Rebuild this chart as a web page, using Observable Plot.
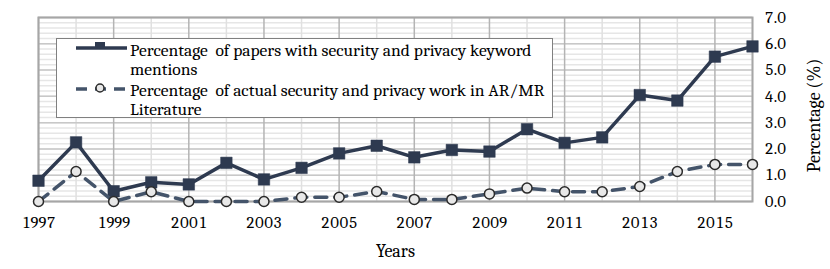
<!DOCTYPE html>
<html><head><meta charset="utf-8">
<script src="https://cdn.jsdelivr.net/npm/d3@7"></script>
<script src="https://cdn.jsdelivr.net/npm/@observablehq/plot@0.6"></script>
<style>
body{margin:0;background:#fff;font-family:Cambria,Caladea,"Liberation Serif",serif;}
#wrap{position:relative;width:830px;height:269px;}
#legend{position:absolute;left:56px;top:38px;width:495px;height:78px;border:1.5px solid #808080;background:#fff;font-size:17.5px;color:#000;line-height:18px;}
#legend svg{position:absolute;left:0;top:0;}
.lt{position:absolute;left:73px;white-space:pre;}
</style></head><body><div id="wrap"></div>
<script>
const years = [1997,1998,1999,2000,2001,2002,2003,2004,2005,2006,2007,2008,2009,2010,2011,2012,2013,2014,2015,2016];
const keywordMentions = [0.79,2.25,0.39,0.73,0.65,1.47,0.84,1.28,1.83,2.12,1.68,1.96,1.90,2.75,2.23,2.44,4.05,3.84,5.51,5.90];
const actualWork = [0.0,1.14,0.0,0.37,0.0,0.0,0.0,0.16,0.16,0.38,0.08,0.08,0.29,0.51,0.37,0.37,0.57,1.14,1.41,1.41];
const seriesNames = ["Percentage  of papers with security and privacy keyword mentions","Percentage  of actual security and privacy work in AR/MR Literature"];
const xTicks = [1997,1999,2001,2003,2005,2007,2009,2011,2013,2015];
const yTicks = [0,1,2,3,4,5,6,7];
const xLabel = "Years";
const yLabel = "Percentage (%)";

const c1 = "#2e3a50", c2 = "#44546a";
const data1 = years.map((y,i)=>({year:y, v:keywordMentions[i]}));
const data2 = years.map((y,i)=>({year:y, v:actualWork[i]}));
const minorY = d3.range(0, 7.001, 0.2).map(v=>+v.toFixed(1));
const oddYears = years.filter(y=>xTicks.includes(y));
const evenYears = years.filter(y=>!xTicks.includes(y));
const ff = "Cambria, Caladea, 'Liberation Serif', serif";

const plot = Plot.plot({
  width:830, height:269,
  marginLeft:38, marginRight:78, marginTop:17, marginBottom:68,
  style:{fontFamily:ff, fontSize:"16px", color:"#000", background:"#fff", overflow:"visible"},
  x:{domain:[1997,2016]},
  y:{domain:[0,7]},
  marks:[
    Plot.ruleY(minorY, {stroke:"#e6e6e6", strokeWidth:1.5}),
    Plot.ruleX(evenYears, {stroke:"#e0e0e0", strokeWidth:1.5}),
    Plot.ruleY(yTicks, {stroke:"#c8c8c8", strokeWidth:1.5}),
    Plot.ruleX(oddYears, {stroke:"#b4b4b4", strokeWidth:1.5}),
    Plot.frame({stroke:"#a6a6a6", strokeWidth:2}),
    Plot.axisX({ticks:xTicks, tickFormat:"d", tickSize:0, tickPadding:15, fontSize:16.5, label:null}),
    Plot.axisY({anchor:"right", ticks:yTicks, tickFormat:d=>d.toFixed(1), tickSize:0, tickPadding:12, fontSize:16.5, label:null}),
    Plot.text([xLabel], {text:d=>d, frameAnchor:"bottom", dy:55, fontSize:18, fill:"#000"}),
    Plot.text([yLabel], {text:d=>d, frameAnchor:"right", textAnchor:"middle", dx:62, dy:6, rotate:-90, fontSize:18, fill:"#000"}),
    Plot.line(data1, {x:"year", y:"v", stroke:c1, strokeWidth:3.5}),
    Plot.dot(data1, {x:"year", y:"v", symbol:"square", r:6.5, fill:c1, stroke:c1, strokeWidth:0.5}),
    Plot.line(data2, {x:"year", y:"v", stroke:c2, strokeWidth:3.5, strokeDasharray:"12,8"}),
    Plot.dot(data2, {x:"year", y:"v", r:5, fill:"#e8e8e8", stroke:"#2a2a2a", strokeWidth:1.5})
  ]
});
const wrap = document.getElementById("wrap");
wrap.appendChild(plot);

const leg = document.createElement("div");
leg.id = "legend";
const split = s => {
  const i1 = s.lastIndexOf(" mentions"), i2 = s.lastIndexOf(" Literature");
  return i1>0 ? [s.slice(0,i1), s.slice(i1+1)] : [s.slice(0,i2), s.slice(i2+1)];
};
const l1 = split(seriesNames[0]), l2 = split(seriesNames[1]);
leg.innerHTML = `
<svg width="80" height="80">
  <line x1="19" x2="70" y1="9" y2="9" stroke="${c1}" stroke-width="3.5"/>
  <rect x="38" y="3" width="10" height="7" fill="${c1}"/>
  <line x1="19" x2="70" y1="50" y2="50" stroke="${c2}" stroke-width="3.5" stroke-dasharray="11,8"/>
  <circle cx="43" cy="49" r="4" fill="#e8e8e8" stroke="#2a2a2a" stroke-width="1.5"/>
</svg>
<div class="lt" style="top:2px">${l1[0]}</div>
<div class="lt" style="top:21px">${l1[1]}</div>
<div class="lt" style="top:42px">${l2[0]}</div>
<div class="lt" style="top:61px">${l2[1]}</div>`;
wrap.appendChild(leg);
</script>
</body></html>
